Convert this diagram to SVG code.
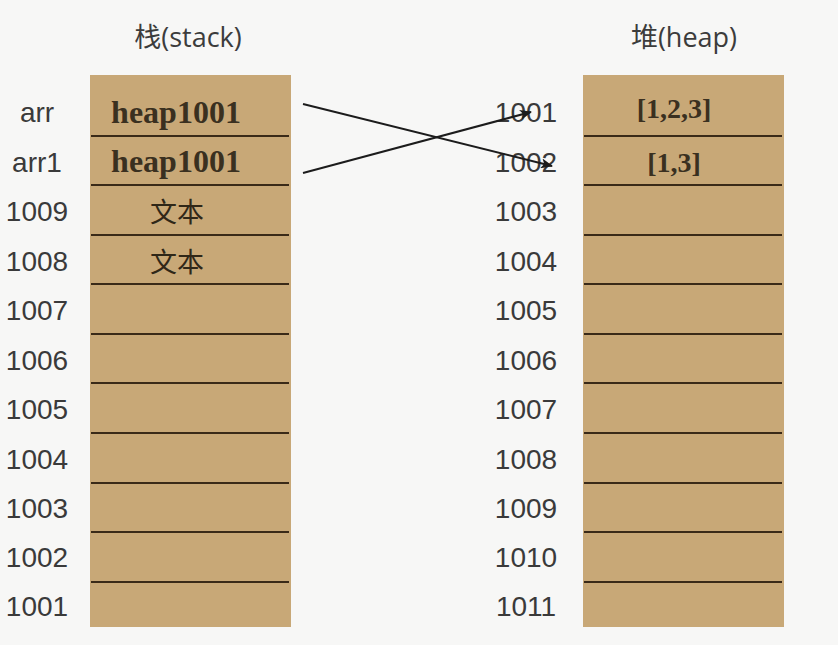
<svg xmlns="http://www.w3.org/2000/svg" width="838" height="645" viewBox="0 0 838 645">
  <style>
    .bg { fill: #f7f7f6; }
    .mem { fill: #c8a877; }
    .sep { stroke: #3a2a18; stroke-width: 2.2; }
    .title { font-family: "Open Sans", "Noto Sans CJK SC", sans-serif; font-size: 27px; fill: #3c3c3c; text-anchor: middle; }
    .addr { font-family: "Liberation Sans", "Noto Sans CJK SC", sans-serif; font-size: 28px; fill: #3a3a3a; text-anchor: middle; }
    .val { font-family: "Liberation Serif", serif; font-weight: bold; font-size: 32px; fill: #3a3020; text-anchor: middle; }
    .cjk { font-family: "Noto Sans CJK SC", sans-serif; font-size: 27px; fill: #2f2718; text-anchor: middle; }
    .conn { stroke: #1c1c1c; stroke-width: 2; fill: none; marker-end: url(#arrow); }
  </style>
  <defs>
    <marker id="arrow" markerWidth="12" markerHeight="10" refX="11" refY="5" orient="auto" markerUnits="userSpaceOnUse">
      <path d="M0,0 L12,5 L0,10 L3,5 Z" fill="#1c1c1c"/>
    </marker>
  </defs>
  <rect class="bg" x="0" y="0" width="838" height="645"/>

  <g id="stack">
    <text class="title" x="188" y="47">栈(stack)</text>
    <rect class="mem" x="90" y="75" width="201" height="552"/>
    <g>
      <line class="sep" x1="91" y1="136" x2="289" y2="136"/>
      <line class="sep" x1="91" y1="185" x2="289" y2="185"/>
      <line class="sep" x1="91" y1="235" x2="289" y2="235"/>
      <line class="sep" x1="91" y1="284" x2="289" y2="284"/>
      <line class="sep" x1="91" y1="334" x2="289" y2="334"/>
      <line class="sep" x1="91" y1="383" x2="289" y2="383"/>
      <line class="sep" x1="91" y1="433" x2="289" y2="433"/>
      <line class="sep" x1="91" y1="483" x2="289" y2="483"/>
      <line class="sep" x1="91" y1="532" x2="289" y2="532"/>
      <line class="sep" x1="91" y1="582" x2="289" y2="582"/>
    </g>
    <g id="stack-values">
      <text class="val" x="176" y="123">heap1001</text>
      <text class="val" x="176" y="172">heap1001</text>
      <text class="cjk" x="177" y="222">文本</text>
      <text class="cjk" x="177" y="272">文本</text>
    </g>
    <g id="stack-labels">
      <text class="addr" x="37" y="122">arr</text>
      <text class="addr" x="37" y="172">arr1</text>
      <text class="addr" x="37" y="221">1009</text>
      <text class="addr" x="37" y="271">1008</text>
      <text class="addr" x="37" y="320">1007</text>
      <text class="addr" x="37" y="370">1006</text>
      <text class="addr" x="37" y="419">1005</text>
      <text class="addr" x="37" y="469">1004</text>
      <text class="addr" x="37" y="518">1003</text>
      <text class="addr" x="37" y="567">1002</text>
      <text class="addr" x="37" y="616">1001</text>
    </g>
  </g>

  <g id="heap">
    <text class="title" x="684" y="47">堆(heap)</text>
    <rect class="mem" x="583" y="75" width="201" height="552"/>
    <g>
      <line class="sep" x1="584" y1="136" x2="782" y2="136"/>
      <line class="sep" x1="584" y1="185" x2="782" y2="185"/>
      <line class="sep" x1="584" y1="235" x2="782" y2="235"/>
      <line class="sep" x1="584" y1="284" x2="782" y2="284"/>
      <line class="sep" x1="584" y1="334" x2="782" y2="334"/>
      <line class="sep" x1="584" y1="383" x2="782" y2="383"/>
      <line class="sep" x1="584" y1="433" x2="782" y2="433"/>
      <line class="sep" x1="584" y1="483" x2="782" y2="483"/>
      <line class="sep" x1="584" y1="532" x2="782" y2="532"/>
      <line class="sep" x1="584" y1="582" x2="782" y2="582"/>
    </g>
    <g id="heap-values">
      <text class="val" x="674" y="118" style="font-size:28px">[1,2,3]</text>
      <text class="val" x="674" y="172" style="font-size:28px">[1,3]</text>
    </g>
    <g id="heap-labels">
      <text class="addr" x="526" y="122">1001</text>
      <text class="addr" x="526" y="172">1002</text>
      <text class="addr" x="526" y="221">1003</text>
      <text class="addr" x="526" y="271">1004</text>
      <text class="addr" x="526" y="320">1005</text>
      <text class="addr" x="526" y="370">1006</text>
      <text class="addr" x="526" y="419">1007</text>
      <text class="addr" x="526" y="469">1008</text>
      <text class="addr" x="526" y="518">1009</text>
      <text class="addr" x="526" y="567">1010</text>
      <text class="addr" x="526" y="616">1011</text>
    </g>
  </g>

  <g id="connectors">
    <line class="conn" x1="303" y1="104" x2="552" y2="166"/>
    <line class="conn" x1="303" y1="173" x2="531" y2="112"/>
  </g>
</svg>
